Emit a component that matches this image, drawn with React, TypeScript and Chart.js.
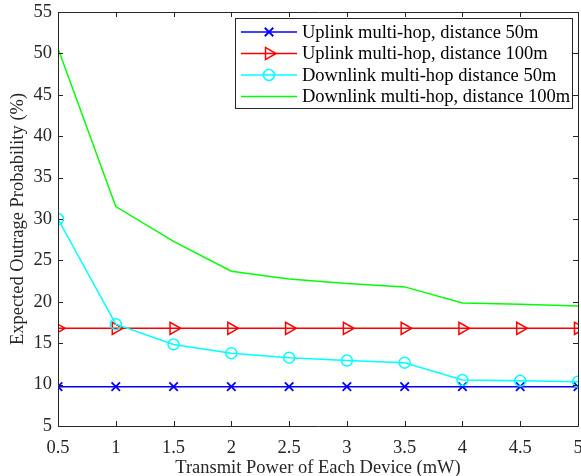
import React, { useEffect, useRef } from "react";
import { Chart, registerables } from "chart.js";

Chart.register(...registerables);

const xValues = [0.5, 1, 1.5, 2, 2.5, 3, 3.5, 4, 4.5, 5];
const uplink50 = [9.75, 9.75, 9.75, 9.75, 9.75, 9.75, 9.75, 9.75, 9.75, 9.75];
const uplink100 = [16.8, 16.8, 16.8, 16.8, 16.8, 16.8, 16.8, 16.8, 16.8, 16.8];
const downlink50 = [30, 17.3, 14.85, 13.8, 13.25, 12.9, 12.65, 10.55, 10.45, 10.35];
const downlink100 = [50.6, 31.5, 27.3, 23.7, 22.75, 22.2, 21.8, 19.85, 19.7, 19.5];

const seriesLabels = [
  "Uplink multi-hop, distance 50m",
  "Uplink multi-hop, distance 100m",
  "Downlink multi-hop distance 50m",
  "Downlink multi-hop, distance 100m",
];

const xTitle = "Transmit Power of Each Device (mW)";
const yTitle = "Expected Outrage Probability (%)";

const FONT = "'Liberation Serif', 'Times New Roman', serif";
const FS = 18.5;
const AXIS_COLOR = "#262626";
const PLOT_RIGHT = 578;

const toPts = (ys: number[]) => ys.map((y, i) => ({ x: xValues[i], y }));

const fixAreaPlugin = {
  id: "fixArea",
  afterLayout(chart: any) {
    const ca = chart.chartArea;
    ca.right = PLOT_RIGHT;
    ca.width = ca.right - ca.left;
    const xs = chart.scales.x;
    xs.right = PLOT_RIGHT;
    xs.width = xs.right - xs.left;
    xs.configure();
  },
};

const boxPlugin = {
  id: "matlabBox",
  afterDraw(chart: any) {
    const { ctx, chartArea } = chart;
    const { left, right, top, bottom } = chartArea;
    const xs = chart.scales.x;
    const ys = chart.scales.y;
    ctx.save();
    ctx.strokeStyle = AXIS_COLOR;
    ctx.lineWidth = 1;
    ctx.beginPath();
    ctx.rect(Math.round(left) + 0.5, Math.round(top) + 0.5, Math.round(right - left), Math.round(bottom - top));
    ctx.stroke();
    const tl = 5;
    ctx.beginPath();
    xs.ticks.forEach((t: any) => {
      const px = Math.round(xs.getPixelForValue(t.value)) + 0.5;
      ctx.moveTo(px, bottom);
      ctx.lineTo(px, bottom - tl);
      ctx.moveTo(px, top);
      ctx.lineTo(px, top + tl);
    });
    ys.ticks.forEach((t: any) => {
      const py = Math.round(ys.getPixelForValue(t.value)) + 0.5;
      ctx.moveTo(left, py);
      ctx.lineTo(left + tl, py);
      ctx.moveTo(right, py);
      ctx.lineTo(right - tl, py);
    });
    ctx.stroke();

    // legend
    const lx = 235, ly = 18, lw = 337, lh = 90;
    ctx.fillStyle = "#ffffff";
    ctx.fillRect(lx, ly, lw, lh);
    ctx.strokeStyle = AXIS_COLOR;
    ctx.lineWidth = 1;
    ctx.strokeRect(lx + 0.5, ly + 0.5, lw, lh);
    const rowH = 21.5;
    chart.data.datasets.forEach((ds: any, i: number) => {
      const cy = ly + 14 + i * rowH;
      ctx.strokeStyle = ds.borderColor;
      ctx.lineWidth = ds.borderWidth;
      ctx.beginPath();
      ctx.moveTo(lx + 6, cy);
      ctx.lineTo(lx + 62, cy);
      ctx.stroke();
      if (ds.pointRadius > 0) {
        const meta = chart.getDatasetMeta(i);
        const el = meta.data[0];
        if (el) {
          const saveX = el.x, saveY = el.y;
          el.x = lx + 34; el.y = cy;
          el.draw(ctx, { left: 0, right: 10000, top: 0, bottom: 10000 });
          el.x = saveX; el.y = saveY;
        }
      }
      ctx.fillStyle = "#000000";
      ctx.font = `${FS}px ${FONT}`;
      ctx.textAlign = "left";
      ctx.textBaseline = "middle";
      ctx.fillText(seriesLabels[i], lx + 67, cy + 1);
    });
    ctx.restore();
  },
};

export default function App() {
  const ref = useRef<HTMLCanvasElement | null>(null);
  useEffect(() => {
    if (!ref.current) return;
    const chart = new Chart(ref.current, {
      type: "line",
      data: {
        datasets: [
          {
            label: seriesLabels[0],
            data: toPts(uplink50),
            borderColor: "#0000ff",
            backgroundColor: "transparent",
            borderWidth: 1.5,
            pointStyle: "crossRot",
            pointRadius: 6,
            pointBorderWidth: 1.8,
            pointBorderColor: "#0000ff",
            tension: 0,
            order: 3,
          },
          {
            label: seriesLabels[1],
            data: toPts(uplink100),
            borderColor: "#ff0000",
            backgroundColor: "transparent",
            borderWidth: 1.5,
            pointStyle: "triangle",
            pointRotation: 90,
            pointRadius: 7,
            pointBorderWidth: 1.5,
            pointBorderColor: "#ff0000",
            pointBackgroundColor: "transparent",
            tension: 0,
            order: 2,
          },
          {
            label: seriesLabels[2],
            data: toPts(downlink50),
            borderColor: "#00ffff",
            backgroundColor: "transparent",
            borderWidth: 1.5,
            pointStyle: "circle",
            pointRadius: 5.5,
            pointBorderWidth: 1.5,
            pointBorderColor: "#00ffff",
            pointBackgroundColor: "transparent",
            tension: 0,
            order: 1,
          },
          {
            label: seriesLabels[3],
            data: toPts(downlink100),
            borderColor: "#00ff00",
            backgroundColor: "transparent",
            borderWidth: 1.5,
            pointRadius: 0,
            tension: 0,
            order: 0,
          },
        ],
      },
      options: {
        animation: false,
        responsive: false,
        devicePixelRatio: 1,
        layout: { padding: { left: 0, top: 12, right: 3, bottom: 0 } },
        plugins: { legend: { display: false }, tooltip: { enabled: false } },
        elements: { point: { hoverRadius: 0 } },
        scales: {
          x: {
            type: "linear",
            min: 0.5,
            max: 5,
            grid: { display: false, drawTicks: false },
            border: { display: false },
            ticks: {
              stepSize: 0.5,
              padding: 11,
              color: AXIS_COLOR,
              font: { family: FONT, size: FS },
              maxRotation: 0,
              autoSkip: false,
              callback: (v: any) => String(Number(v)),
            },
            title: {
              display: true,
              text: xTitle,
              color: AXIS_COLOR,
              font: { family: FONT, size: FS, lineHeight: 0.8 },
              padding: 0,
            },
            afterFit: (s: any) => {
              s.height = 50;
              s.paddingLeft = 0;
              s.paddingRight = 0;
            },
          },
          y: {
            type: "linear",
            min: 5,
            max: 55,
            grid: { display: false, drawTicks: false },
            border: { display: false },
            ticks: {
              stepSize: 5,
              padding: 6,
              color: AXIS_COLOR,
              font: { family: FONT, size: FS },
            },
            title: {
              display: true,
              text: yTitle,
              color: AXIS_COLOR,
              font: { family: FONT, size: FS, lineHeight: 1 },
              padding: { top: 9, bottom: 0 },
            },
            afterFit: (s: any) => {
              s.width = 58;
              s.paddingTop = 0;
              s.paddingBottom = 0;
            },
          },
        },
      },
      plugins: [fixAreaPlugin, boxPlugin],
    } as any);
    return () => chart.destroy();
  }, []);
  return (
    <div style={{ position: "fixed", left: 0, top: 0, width: 581, height: 476, background: "#fff" }}>
      <canvas ref={ref} width={581} height={476} style={{ display: "block", width: 581, height: 476 }} />
    </div>
  );
}
